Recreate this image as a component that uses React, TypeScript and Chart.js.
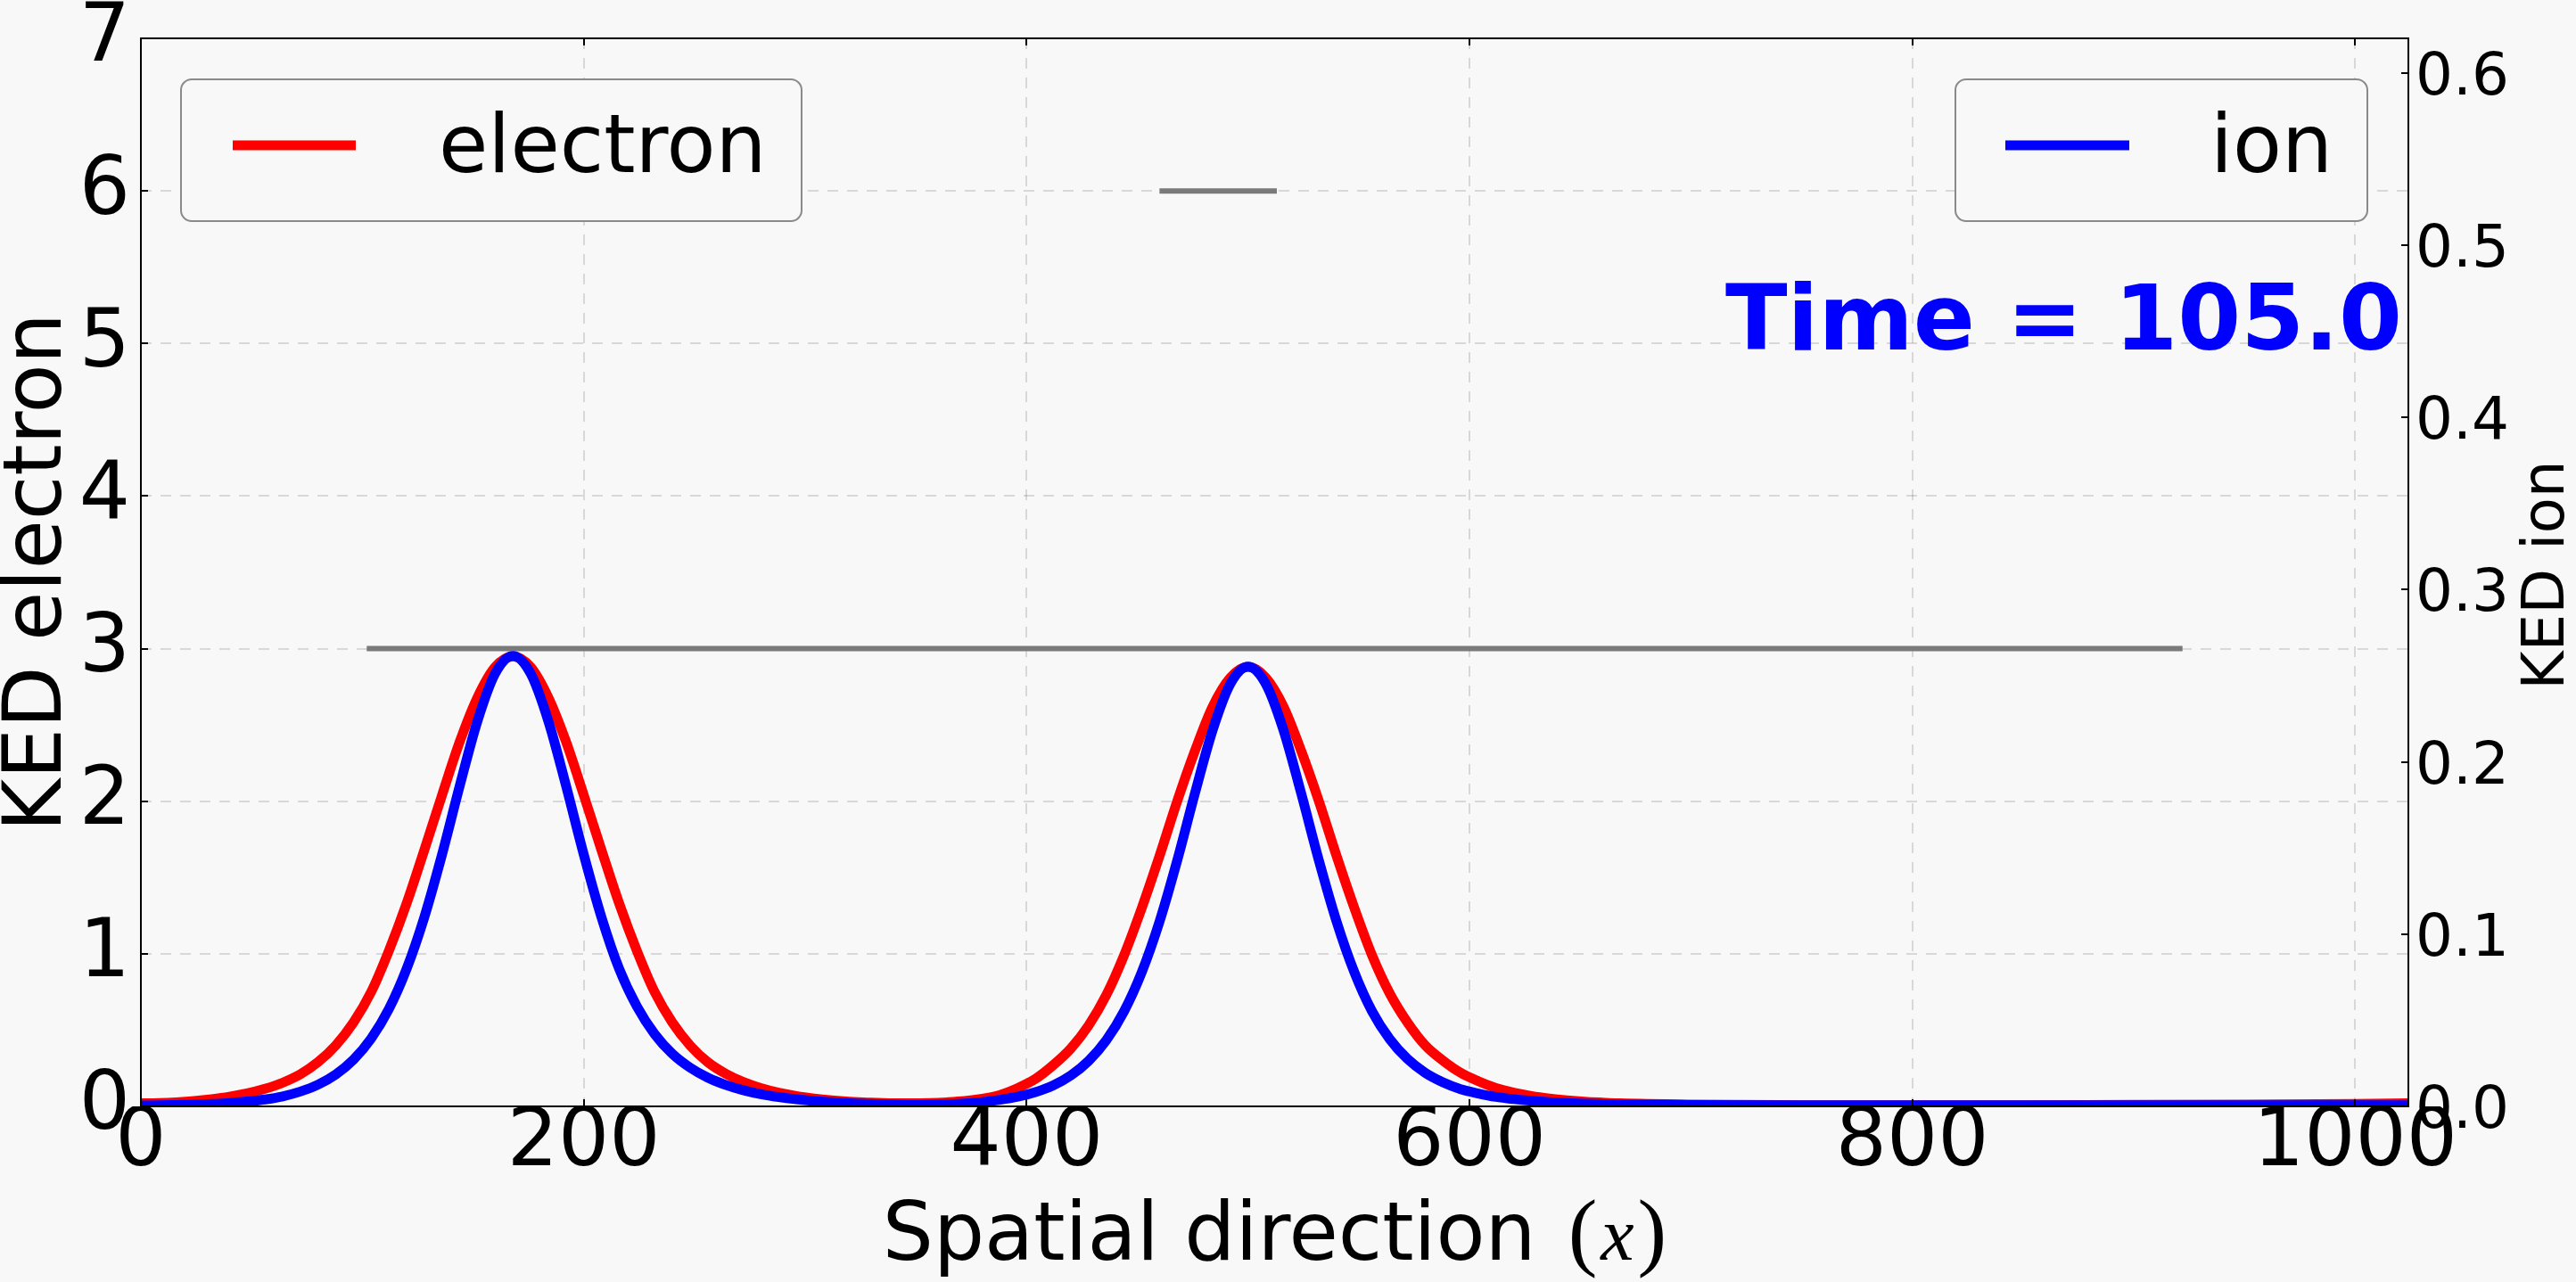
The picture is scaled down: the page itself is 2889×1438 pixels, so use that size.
import React, { useEffect, useRef } from 'react';
import { Chart, registerables } from 'chart.js';

Chart.register(...registerables);

// ---------------- data ----------------
const xPositions: number[] = [
  0, 8, 16, 24, 32, 40, 48, 56, 64, 72, 80, 88, 96, 104, 112, 120, 128, 136, 144, 152, 160,
  168, 176, 184, 192, 200, 208, 216, 224, 232, 240, 248, 256, 264, 272, 280, 288, 296, 304, 312, 320, 328,
  340, 348, 356, 364, 372, 380, 388, 396, 404, 412, 420, 428, 436, 444, 452, 460, 468, 476, 484, 492,
  500, 508, 516, 524, 532, 540, 548, 556, 564, 572, 580, 588, 596, 604, 612, 620, 628, 636, 644, 652, 660, 668,
  700, 750, 800, 850, 900, 950, 1000, 1024,
];

const electronKED: number[] = [
  0.02, 0.022, 0.027, 0.035, 0.047, 0.063, 0.085, 0.115, 0.155, 0.21, 0.29, 0.4, 0.55, 0.75, 1.02, 1.33, 1.68, 2.04, 2.39, 2.68, 2.88,
  2.95, 2.88, 2.68, 2.39, 2.04, 1.68, 1.33, 1.02, 0.75, 0.55, 0.4, 0.29, 0.215, 0.16, 0.12, 0.09, 0.068, 0.052, 0.04, 0.031, 0.025,
  0.02, 0.02, 0.022, 0.027, 0.035, 0.05, 0.075, 0.12, 0.18, 0.27, 0.38, 0.53, 0.73, 0.99, 1.3, 1.64, 2.0, 2.33, 2.62, 2.81,
  2.88, 2.81, 2.62, 2.33, 2.0, 1.64, 1.3, 0.99, 0.74, 0.55, 0.4, 0.3, 0.22, 0.165, 0.12, 0.09, 0.068, 0.052, 0.04, 0.031, 0.025, 0.02,
  0.012, 0.008, 0.007, 0.008, 0.01, 0.012, 0.016, 0.02,
];

const ionKED: number[] = [
  0.0005, 0.0006, 0.0008, 0.001, 0.0014, 0.002, 0.0028, 0.004, 0.0058, 0.0086, 0.0126, 0.0185, 0.0271, 0.0394, 0.0565, 0.0798, 0.1098, 0.1462, 0.1861, 0.2237, 0.2513,
  0.2615, 0.2513, 0.2237, 0.1861, 0.1462, 0.1098, 0.0798, 0.058, 0.042, 0.0305, 0.0225, 0.0167, 0.0125, 0.0094, 0.0071, 0.0054, 0.0041, 0.0031, 0.0024, 0.0018, 0.0014,
  0.001, 0.0008, 0.0009, 0.0012, 0.0017, 0.0025, 0.0038, 0.0056, 0.0083, 0.0122, 0.018, 0.0264, 0.0384, 0.0552, 0.0779, 0.1072, 0.1427, 0.1817, 0.2184, 0.2453,
  0.2553, 0.2453, 0.2184, 0.1817, 0.1427, 0.1072, 0.0779, 0.0552, 0.039, 0.0275, 0.0195, 0.014, 0.01, 0.0075, 0.0055, 0.0042, 0.0032, 0.0025, 0.002, 0.0016, 0.0013, 0.0011,
  0.0008, 0.0006, 0.0006, 0.0006, 0.0006, 0.0006, 0.0006, 0.0006,
];

// grey reference segments (left axis units)
const upperSegmentX: number[] = [460, 513];
const upperSegmentLevel = 6;
const lowerSegmentX: number[] = [102, 922];
const lowerSegmentLevel = 3;

// axis ticks
const xTicks: number[] = [0, 200, 400, 600, 800, 1000];
const electronTicks: number[] = [0, 1, 2, 3, 4, 5, 6, 7];
const ionTicks: number[] = [0, 0.1, 0.2, 0.3, 0.4, 0.5, 0.6];

const xRange = [0, 1024];
const electronRange = [0, 7];
const ionRange = [0, 0.62];

const timeLabel = 'Time = 105.0';

// ---------------- styling ----------------
const BG = '#f8f8f8';
const SANS = "'DejaVu Sans', sans-serif";
const SERIF = "'Liberation Serif', 'DejaVu Serif', serif";

function roundedRect(ctx: CanvasRenderingContext2D, x: number, y: number, w: number, h: number, r: number) {
  ctx.beginPath();
  ctx.moveTo(x + r, y);
  ctx.lineTo(x + w - r, y);
  ctx.arcTo(x + w, y, x + w, y + r, r);
  ctx.lineTo(x + w, y + h - r);
  ctx.arcTo(x + w, y + h, x + w - r, y + h, r);
  ctx.lineTo(x + r, y + h);
  ctx.arcTo(x, y + h, x, y + h - r, r);
  ctx.lineTo(x, y + r);
  ctx.arcTo(x, y, x + r, y, r);
  ctx.closePath();
}

function drawLegend(
  ctx: CanvasRenderingContext2D,
  box: [number, number, number, number],
  color: string,
  label: string,
  lineX: [number, number],
  textX: number,
) {
  const [x, y, w, h] = box;
  ctx.save();
  roundedRect(ctx, x, y, w, h, 12);
  ctx.fillStyle = BG;
  ctx.fill();
  ctx.strokeStyle = '#8a8a8a';
  ctx.lineWidth = 2;
  ctx.stroke();
  const midY = y + 74;
  ctx.beginPath();
  ctx.moveTo(lineX[0], midY);
  ctx.lineTo(lineX[1], midY);
  ctx.strokeStyle = color;
  ctx.lineWidth = 11;
  ctx.lineCap = 'butt';
  ctx.stroke();
  ctx.fillStyle = '#000';
  ctx.font = `90px ${SANS}`;
  ctx.textAlign = 'left';
  ctx.textBaseline = 'alphabetic';
  ctx.fillText(label, textX, y + 104);
  ctx.restore();
}

const overlayPlugin = {
  id: 'overlay',
  beforeDraw(chart: any) {
    const ctx = chart.ctx as CanvasRenderingContext2D;
    ctx.save();
    ctx.fillStyle = BG;
    ctx.fillRect(0, 0, chart.width, chart.height);
    ctx.restore();
  },
  beforeDatasetsDraw(chart: any) {
    const ctx = chart.ctx as CanvasRenderingContext2D;
    const a = chart.chartArea;
    const sx = chart.scales.x;
    const sy = chart.scales.y;
    ctx.save();
    ctx.strokeStyle = 'rgba(0,0,0,0.13)';
    ctx.lineWidth = 2;
    ctx.setLineDash([12, 10]);
    xTicks.forEach((v) => {
      const px = Math.round(sx.getPixelForValue(v));
      ctx.beginPath();
      ctx.moveTo(px, a.top);
      ctx.lineTo(px, a.bottom);
      ctx.stroke();
    });
    electronTicks.forEach((v) => {
      const py = Math.round(sy.getPixelForValue(v));
      ctx.beginPath();
      ctx.moveTo(a.left, py);
      ctx.lineTo(a.right, py);
      ctx.stroke();
    });
    ctx.restore();
  },
  afterDatasetsDraw(chart: any) {
    const ctx = chart.ctx as CanvasRenderingContext2D;
    const a = chart.chartArea;
    const sx = chart.scales.x;
    const sy = chart.scales.y;
    const sy2 = chart.scales.y2;
    ctx.save();
    // frame
    ctx.strokeStyle = '#000';
    ctx.lineWidth = 2;
    ctx.setLineDash([]);
    ctx.strokeRect(a.left, a.top, a.right - a.left, a.bottom - a.top);
    // inward tick marks
    const tl = 8;
    ctx.beginPath();
    xTicks.forEach((v) => {
      const px = Math.round(sx.getPixelForValue(v));
      ctx.moveTo(px, a.bottom);
      ctx.lineTo(px, a.bottom - tl);
      ctx.moveTo(px, a.top);
      ctx.lineTo(px, a.top + tl);
    });
    electronTicks.forEach((v) => {
      const py = Math.round(sy.getPixelForValue(v));
      ctx.moveTo(a.left, py);
      ctx.lineTo(a.left + tl, py);
    });
    ionTicks.forEach((v) => {
      const py = Math.round(sy2.getPixelForValue(v));
      ctx.moveTo(a.right, py);
      ctx.lineTo(a.right - tl, py);
    });
    ctx.stroke();

    // legends
    drawLegend(ctx, [203, 89, 696, 159], '#ff0000', 'electron', [261, 399], 492);
    drawLegend(ctx, [2193, 89, 462, 159], '#0000ff', 'ion', [2249, 2388], 2479);

    // time annotation
    ctx.fillStyle = '#0000ff';
    ctx.font = `bold 102px ${SANS}`;
    ctx.textAlign = 'right';
    ctx.textBaseline = 'alphabetic';
    ctx.fillText(timeLabel, 2694, 392);

    // x-axis title: "Spatial direction (x)"
    ctx.fillStyle = '#000';
    const base = 1413;
    ctx.textAlign = 'left';
    ctx.font = `90px ${SANS}`;
    const part1 = 'Spatial direction';
    const w1 = ctx.measureText(part1).width;
    ctx.font = `98px ${SERIF}`;
    const wp = ctx.measureText('(').width;
    ctx.font = `italic 84px ${SERIF}`;
    const wx = ctx.measureText('x').width;
    const gap = 36;
    const total = w1 + gap + wp + 4 + wx + 4 + wp;
    let cx = (a.left + a.right) / 2 - total / 2;
    ctx.font = `90px ${SANS}`;
    ctx.fillText(part1, cx, base);
    cx += w1 + gap;
    ctx.font = `98px ${SERIF}`;
    ctx.fillText('(', cx, base);
    cx += wp + 4;
    ctx.font = `italic 84px ${SERIF}`;
    ctx.fillText('x', cx, base);
    cx += wx + 4;
    ctx.font = `98px ${SERIF}`;
    ctx.fillText(')', cx, base);

    // left title
    ctx.save();
    ctx.translate(68, (a.top + a.bottom) / 2);
    ctx.rotate(-Math.PI / 2);
    ctx.font = `90px ${SANS}`;
    ctx.textAlign = 'center';
    ctx.fillText('KED electron', 0, 0);
    ctx.restore();

    // right title
    ctx.save();
    ctx.translate(2875, (a.top + a.bottom) / 2 + 3);
    ctx.rotate(-Math.PI / 2);
    ctx.font = `66px ${SANS}`;
    ctx.textAlign = 'center';
    ctx.fillText('KED ion', 0, 0);
    ctx.restore();

    ctx.restore();
  },
};

export default function App() {
  const canvasRef = useRef<HTMLCanvasElement | null>(null);

  useEffect(() => {
    const canvas = canvasRef.current;
    if (!canvas) return;

    const electronPoints = xPositions.map((x, i) => ({ x, y: electronKED[i] }));
    const ionPoints = xPositions.map((x, i) => ({ x, y: ionKED[i] }));
    const upperPoints = upperSegmentX.map((x) => ({ x, y: upperSegmentLevel }));
    const lowerPoints = lowerSegmentX.map((x) => ({ x, y: lowerSegmentLevel }));

    const chart = new Chart(canvas, {
      type: 'line',
      data: {
        datasets: [
          {
            label: 'upper',
            data: upperPoints,
            borderColor: '#7a7a7a',
            borderWidth: 6,
            pointRadius: 0,
            yAxisID: 'y',
            order: 4,
          },
          {
            label: 'lower',
            data: lowerPoints,
            borderColor: '#7a7a7a',
            borderWidth: 6,
            pointRadius: 0,
            yAxisID: 'y',
            order: 3,
          },
          {
            label: 'electron',
            data: electronPoints,
            borderColor: '#ff0000',
            borderWidth: 11,
            pointRadius: 0,
            cubicInterpolationMode: 'monotone',
            yAxisID: 'y',
            order: 2,
          },
          {
            label: 'ion',
            data: ionPoints,
            borderColor: '#0000ff',
            borderWidth: 11,
            pointRadius: 0,
            cubicInterpolationMode: 'monotone',
            yAxisID: 'y2',
            order: 1,
          },
        ],
      } as any,
      options: {
        animation: false,
        responsive: false,
        devicePixelRatio: 1,
        events: [],
        layout: { padding: { top: 43, left: 0, right: 0, bottom: 0 } },
        plugins: { legend: { display: false }, tooltip: { enabled: false } },
        scales: {
          x: {
            type: 'linear',
            position: 'bottom',
            min: xRange[0],
            max: xRange[1],
            afterBuildTicks: (s: any) => {
              s.ticks = xTicks.map((v) => ({ value: v }));
            },
            afterFit: (s: any) => {
              s.height = 197;
              s.paddingLeft = 0;
              s.paddingRight = 0;
            },
            grid: { display: false, drawTicks: false },
            border: { display: false },
            ticks: {
              font: { family: SANS, size: 90, lineHeight: 1 },
              color: '#000',
              padding: -2,
              autoSkip: false,
              maxRotation: 0,
              minRotation: 0,
              callback: (v: any) => String(v),
            },
          },
          y: {
            type: 'linear',
            position: 'left',
            min: electronRange[0],
            max: electronRange[1],
            afterBuildTicks: (s: any) => {
              s.ticks = electronTicks.map((v) => ({ value: v }));
            },
            afterFit: (s: any) => {
              s.width = 158;
              s.paddingTop = 0;
              s.paddingBottom = 0;
            },
            grid: { display: false, drawTicks: false },
            border: { display: false },
            ticks: {
              font: { family: SANS, size: 90, lineHeight: 1 },
              color: '#000',
              padding: 12,
              labelOffset: 2,
              callback: (v: any) => String(v),
            },
          },
          y2: {
            type: 'linear',
            position: 'right',
            min: ionRange[0],
            max: ionRange[1],
            afterBuildTicks: (s: any) => {
              s.ticks = ionTicks.map((v) => ({ value: v }));
            },
            afterFit: (s: any) => {
              s.width = 188;
              s.paddingTop = 0;
              s.paddingBottom = 0;
            },
            grid: { display: false, drawTicks: false },
            border: { display: false },
            ticks: {
              font: { family: SANS, size: 66, lineHeight: 1 },
              color: '#000',
              padding: 8,
              labelOffset: 7,
              callback: (v: any) => Number(v).toFixed(1),
            },
          },
        },
      } as any,
      plugins: [overlayPlugin as any],
    });

    return () => {
      chart.destroy();
    };
  }, []);

  return (
    <div style={{ position: 'absolute', left: 0, top: 0, width: 2889, height: 1438, background: BG }}>
      <canvas ref={canvasRef} width={2889} height={1438} style={{ display: 'block', width: 2889, height: 1438 }} />
    </div>
  );
}
